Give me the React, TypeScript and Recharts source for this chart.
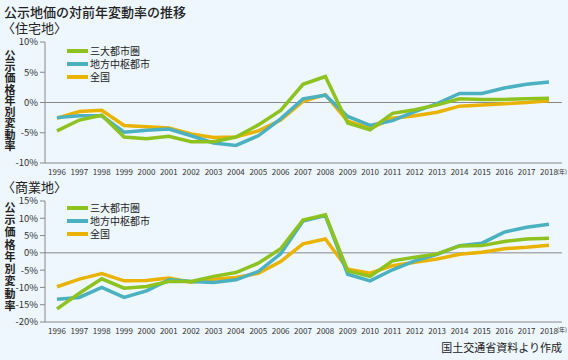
import React from 'react';
import { LineChart, Line, XAxis, YAxis, ReferenceLine } from 'recharts';

const years = ['1996','1997','1998','1999','2000','2001','2002','2003','2004','2005','2006','2007','2008','2009','2010','2011','2012','2013','2014','2015','2016','2017','2018'];

// 住宅地
const resMetro = [-4.7,-2.9,-2.1,-5.7,-6.0,-5.6,-6.5,-6.5,-5.7,-3.7,-1.3,3.0,4.3,-3.4,-4.5,-1.8,-1.2,-0.4,0.6,0.5,0.5,0.6,0.7];
const resRegional = [-2.5,-2.2,-2.2,-4.9,-4.6,-4.4,-5.5,-6.7,-7.1,-5.5,-2.7,0.6,1.2,-2.3,-3.8,-3.0,-1.5,-0.2,1.5,1.5,2.4,3.0,3.4];
const resNational = [-2.6,-1.5,-1.3,-3.8,-4.0,-4.2,-5.2,-5.8,-5.7,-4.7,-2.9,0.2,1.3,-3.1,-4.3,-2.6,-2.2,-1.6,-0.6,-0.4,-0.2,0.0,0.3];

// 商業地
const comMetro = [-16.2,-11.7,-7.5,-10.2,-9.7,-8.3,-8.3,-6.8,-5.7,-3.0,1.2,9.5,11.0,-5.2,-6.8,-2.3,-1.3,-0.3,2.0,2.1,3.3,4.0,4.2];
const comRegional = [-13.4,-12.9,-10.0,-12.9,-11.0,-7.8,-8.3,-8.6,-7.8,-5.4,-0.3,9.2,10.8,-6.2,-8.1,-4.9,-2.3,-0.4,2.1,2.8,6.0,7.4,8.3];
const comNational = [-9.8,-7.6,-6.0,-8.1,-8.0,-7.3,-8.5,-7.6,-7.1,-5.9,-2.5,2.6,4.0,-4.7,-5.9,-3.7,-2.7,-1.8,-0.4,0.2,1.2,1.6,2.2];

const seriesNames = ['三大都市圏', '地方中枢都市', '全国'];
const resTicks = [-10, -5, 0, 5, 10];
const comTicks = [-20, -15, -10, -5, 0, 5, 10, 15];

const colors = ['#8dc21f', '#4bb1c1', '#e9b300'];
const FONT = '"Noto Sans CJK JP", "Noto Sans", sans-serif';
const BG = '#eef7fd';

const resData = years.map((y, i) => ({ year: y, metro: resMetro[i], regional: resRegional[i], national: resNational[i] }));
const comData = years.map((y, i) => ({ year: y, metro: comMetro[i], regional: comRegional[i], national: comNational[i] }));

const LegendBox = ({ top }: { top: number }) => (
  <div style={{ position: 'absolute', left: 67, top, fontFamily: FONT, fontSize: 10, color: '#222', lineHeight: 1 }}>
    {seriesNames.map((n, i) => (
      <div key={n} style={{ display: 'flex', alignItems: 'center', height: 13.3 }}>
        <div style={{ width: 21, height: 4, background: colors[i], marginRight: 2 }} />
        <span>{n}</span>
      </div>
    ))}
  </div>
);

const VLabel = ({ top, spacing }: { top: number; spacing: number }) => (
  <div style={{ position: 'absolute', left: 4, top, fontFamily: FONT, fontSize: 11, fontWeight: 700, color: '#222', writingMode: 'vertical-rl', textOrientation: 'upright', letterSpacing: spacing, lineHeight: 1 }}>
    公示価格年別変動率
  </div>
);

const Chart = ({ data, ticks, domain, height, marginTop }: any) => (
  <LineChart width={568} height={height} data={data} margin={{ top: marginTop, right: 6, bottom: 2, left: 0 }}>
    <XAxis dataKey="year" interval={0} tickLine={false} axisLine={{ stroke: '#888' }} tickSize={4} padding={{ left: 12, right: 13 }} tick={{ fontSize: 8, fill: '#333', fontFamily: FONT }} height={20} />
    <YAxis domain={domain} ticks={ticks} interval={0} width={45} tickSize={5} tickLine={{ stroke: '#888' }} axisLine={{ stroke: '#888' }} tickFormatter={(v: number) => v + '%'} tick={{ fontSize: 9.5, fill: '#333', fontFamily: FONT }} />
    <ReferenceLine y={0} stroke="#888" strokeWidth={1} />
    <Line dataKey="national" stroke={colors[2]} strokeWidth={3.5} dot={false} isAnimationActive={false} />
    <Line dataKey="regional" stroke={colors[1]} strokeWidth={3.5} dot={false} isAnimationActive={false} />
    <Line dataKey="metro" stroke={colors[0]} strokeWidth={3.5} dot={false} isAnimationActive={false} />
  </LineChart>
);

export default function App() {
  return (
    <div style={{ position: 'absolute', left: 0, top: 0, width: 568, height: 360, background: BG, overflow: 'hidden', fontFamily: FONT }}>
      <div style={{ position: 'absolute', left: 4, top: 5, fontSize: 13, color: '#222', fontWeight: 500, lineHeight: 1 }}>公示地価の対前年変動率の推移</div>
      <div style={{ position: 'absolute', left: 2, top: 21, fontSize: 13, color: '#222', lineHeight: 1 }}>〈住宅地〉</div>
      <div style={{ position: 'absolute', left: 0, top: 0 }}>
        <Chart data={resData} ticks={resTicks} domain={[-10, 10]} height={185} marginTop={42} />
      </div>
      <VLabel top={50} spacing={0.3} />
      <LegendBox top={44} />
      <div style={{ position: 'absolute', left: 557, top: 169, fontSize: 6, color: '#333', lineHeight: 1 }}>(年)</div>

      <div style={{ position: 'absolute', left: 2, top: 180, fontSize: 13, color: '#222', lineHeight: 1 }}>〈商業地〉</div>
      <div style={{ position: 'absolute', left: 0, top: 180 }}>
        <Chart data={comData} ticks={comTicks} domain={[-20, 15]} height={164} marginTop={21} />
      </div>
      <VLabel top={202} spacing={1.3} />
      <LegendBox top={201} />
      <div style={{ position: 'absolute', left: 557, top: 327, fontSize: 6, color: '#333', lineHeight: 1 }}>(年)</div>

      <div style={{ position: 'absolute', right: 6, top: 342, fontSize: 11, color: '#222', lineHeight: 1 }}>国土交通省資料より作成</div>
    </div>
  );
}
